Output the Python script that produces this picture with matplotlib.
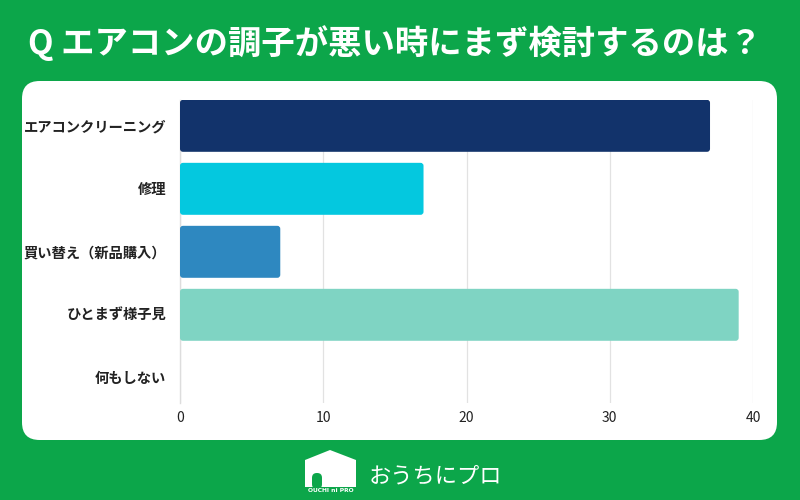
import matplotlib
matplotlib.use("Agg")
import matplotlib.pyplot as plt
from matplotlib.patches import FancyBboxPatch, Polygon, Rectangle

plt.rcParams['font.family'] = ['Noto Sans CJK JP', 'DejaVu Sans']

title = "Q エアコンの調子が悪い時にまず検討するのは？"
categories = ["エアコンクリーニング", "修理", "買い替え（新品購入）", "ひとまず様子見", "何もしない"]
values = [37, 17, 7, 39, 0]
colors = ["#12336b", "#04c8df", "#2e88c0", "#7fd4c3", "#cccccc"]
xticks = [0, 10, 20, 30, 40]
brand = "おうちにプロ"
brand_small = "OUCHI ni PRO"

GREEN = "#0ca64a"

fig = plt.figure(figsize=(8, 5), dpi=100)
fig.patch.set_facecolor(GREEN)

# white rounded panel
panel = FancyBboxPatch((22 / 800, 1 - 440 / 500), (777 - 22) / 800, (440 - 81) / 500,
                       boxstyle="round,pad=0,rounding_size=0.022",
                       mutation_aspect=1.6,
                       transform=fig.transFigure, facecolor="white", edgecolor="none", zorder=-1)
fig.patches.append(panel)

# title
fig.text(0.494, 1 - 43 / 500, title, ha="center", va="center", color="white",
         fontsize=24, fontweight="bold")

ax = fig.add_axes([180 / 800, 1 - 403 / 500, 573 / 800, 303 / 500])
ax.set_zorder(5)
ax.set_facecolor("none")

ypos = list(range(len(categories)))
bars = ax.barh(ypos, values, height=0.825, color=colors, zorder=3)
ax.set_xlim(0, 40)
ax.set_ylim(4.4, -0.41)

# replace bars by rounded versions
x_per_px = 40 / 573
y_per_px = 4.81 / 303
r = 3 * x_per_px
for b in bars:
    b.set_visible(False)
    x0, y0 = b.get_x(), b.get_y()
    w, h = b.get_width(), b.get_height()
    if w <= 0:
        continue
    p = FancyBboxPatch((x0, y0), w, h, boxstyle=f"round,pad=0,rounding_size={r}",
                       mutation_aspect=y_per_px / x_per_px,
                       facecolor=b.get_facecolor(), edgecolor="none", zorder=3)
    ax.add_patch(p)

ax.set_yticks(ypos)
ax.set_yticklabels(categories, fontsize=10.3, fontweight="bold", color="#222222")
ax.set_xticks(xticks)
ax.set_xticklabels([str(t) for t in xticks], fontsize=10, color="#222222")
ax.tick_params(axis="both", length=0)
ax.tick_params(axis="y", pad=10)
ax.tick_params(axis="x", pad=6)
ax.grid(axis="x", color="#e2e2e2", linewidth=0.9, zorder=0)
for s in ["top", "right", "bottom"]:
    ax.spines[s].set_visible(False)
ax.spines["left"].set_color("#dddddd")
ax.spines["left"].set_linewidth(1.0)

# logo: house icon
def fx(px):
    return px / 800

def fy(py):
    return 1 - py / 500

house = Polygon([(fx(305), fy(488)), (fx(305), fy(460)), (fx(330), fy(450)),
                 (fx(356), fy(460)), (fx(356), fy(488))], closed=True,
                transform=fig.transFigure, facecolor="white", edgecolor="none")
fig.patches.append(house)
door = FancyBboxPatch((fx(312), fy(489)), fx(10), (489 - 473) / 500,
                      boxstyle="round,pad=0,rounding_size=0.006", mutation_aspect=1.6,
                      transform=fig.transFigure, facecolor=GREEN, edgecolor="none")
fig.patches.append(door)
band = Rectangle((fx(303), fy(495)), fx(56), 8 / 500, transform=fig.transFigure,
                 facecolor=GREEN, edgecolor="none")
fig.patches.append(band)
fig.text(fx(331), fy(491), brand_small, ha="center", va="center", color="white",
         fontsize=4.3, fontweight="bold", family=["DejaVu Sans"])
fig.text(fx(369), fy(476), brand, ha="left", va="center", color="white", fontsize=16)

fig.savefig("out.png", dpi=100, facecolor=fig.get_facecolor())
